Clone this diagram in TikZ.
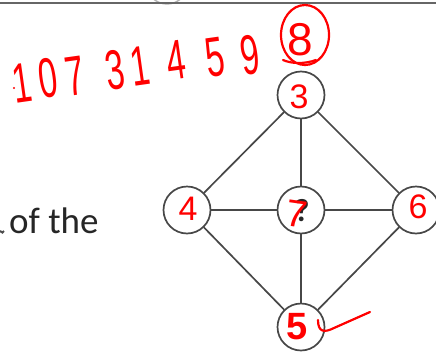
\documentclass[tikz,border=0pt]{standalone}
\usepackage{fontspec}
\usepackage{graphicx}
\setmainfont{Carlito}
\newfontfamily\handfont{Liberation Sans}
\newcommand{\narrowdig}[1]{\scalebox{0.6}[1]{#1}}
\begin{document}
\begin{tikzpicture}[x=1pt,y=-1pt,
  vert/.style={circle,draw=black!72,line width=1.7pt,minimum size=47pt,inner sep=0pt,fill=white},
  edge/.style={draw=black!72,line width=1.7pt},
  redd/.style={text=red,font=\handfont\fontsize{34}{34}\selectfont,inner sep=0pt},
  redbig/.style={text=red,font=\handfont\fontsize{56}{56}\selectfont,inner sep=0pt,rotate=8},
  redline/.style={draw=red,line width=2.2pt,line cap=round}]
\useasboundingbox (0,0) rectangle (436,351);
% window border at the top
\draw[black!30,line width=1.4pt] (167,-17) circle (21);
\draw[black!60,line width=2pt] (0,3) -- (436,3);
% vertices
\node[vert] (t) at (301,95) {};
\node[vert] (l) at (187,210) {};
\node[vert] (c) at (301,210) {};
\node[vert] (r) at (416,210) {};
\node[vert] (b) at (301,327) {};
% edges
\draw[edge] (t) -- (l);
\draw[edge] (t) -- (r);
\draw[edge] (l) -- (b);
\draw[edge] (r) -- (b);
\draw[edge] (t) -- (c);
\draw[edge] (c) -- (b);
\draw[edge] (l) -- (c);
\draw[edge] (c) -- (r);
% printed text
\node[font=\fontsize{37}{37}\selectfont,text=black!85,anchor=base west,inner sep=0pt] (txt) at (9,233) {of the};
\draw[black!70,line width=2pt] (0,231) .. controls (2,233) and (3,233) .. (4,231);
\node[font=\bfseries\fontsize{32}{32}\selectfont,text=black!85,inner sep=0pt] (q) at (302,211) {?};
% red handwriting: sequence
\node[redbig] (d1) at (22,83) {\narrowdig{1}};
\node[redbig] (d2) at (48,78) {\narrowdig{0}};
\node[redbig] (d3) at (75,76) {\narrowdig{7}};
\node[redbig] (d4) at (115,70) {\narrowdig{3}};
\node[redbig] (d5) at (140,66) {\narrowdig{1}};
\node[redbig] (d6) at (176,60) {\narrowdig{4}};
\node[redbig] (d7) at (215,57) {\narrowdig{5}};
\node[redbig] (d8) at (250,55) {\narrowdig{9}};
\node[redbig,rotate=-8,font=\handfont\fontsize{46}{46}\selectfont] (d9) at (300,40) {8};
\draw[redline] (305,35) ellipse (24 and 30);
\draw[redline] (283,60) .. controls (292,64) and (305,64) .. (316,60);
\fill[red] (14,88) circle (1.2);
% red labels in vertices
\node[redd] (n3) at (299,97) {3};
\node[redd] (n4) at (188,209) {4};
\node[redd] (n6) at (418,207) {6};
\node[redd,font=\handfont\fontsize{38}{38}\selectfont,rotate=-8] (n7) at (297,214) {7};
\node[redd,font=\handfont\bfseries\fontsize{38}{38}\selectfont] (n5) at (297,327) {5};
\coordinate (k1) at (318,320);
\coordinate (k2) at (370,312);
\draw[redline] (k1) .. controls (318,332) and (324,333) .. (334,328) -- (k2);
\end{tikzpicture}
\end{document}
